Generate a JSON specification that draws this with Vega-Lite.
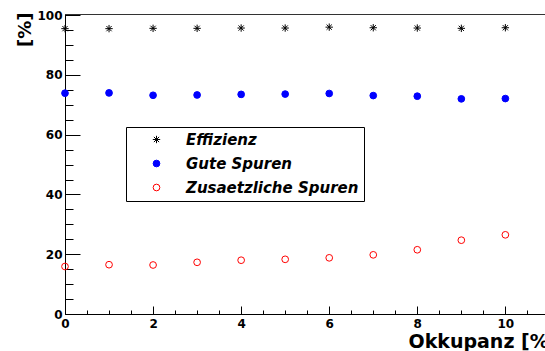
{
  "$schema": "https://vega.github.io/schema/vega-lite/v6.json",
  "width": 480,
  "height": 300,
  "autosize": {"type": "none"},
  "padding": {"left": 65, "top": 14, "right": 0, "bottom": 37},
  "background": "white",
  "config": {
    "view": {"stroke": "#333333", "strokeWidth": 1},
    "axis": {
      "grid": false,
      "labelFont": "DejaVu Sans",
      "labelFontWeight": "bold",
      "labelFontSize": 12,
      "labelColor": "black",
      "domainColor": "black",
      "tickColor": "black",
      "titleFont": "DejaVu Sans",
      "titleFontWeight": "bold",
      "titleColor": "black"
    }
  },
  "data": {
    "values": [
      {"okkupanz": 0, "wert": 95.5, "serie": "Effizienz"},
      {"okkupanz": 1, "wert": 95.5, "serie": "Effizienz"},
      {"okkupanz": 2, "wert": 95.6, "serie": "Effizienz"},
      {"okkupanz": 3, "wert": 95.6, "serie": "Effizienz"},
      {"okkupanz": 4, "wert": 95.7, "serie": "Effizienz"},
      {"okkupanz": 5, "wert": 95.7, "serie": "Effizienz"},
      {"okkupanz": 6, "wert": 96.0, "serie": "Effizienz"},
      {"okkupanz": 7, "wert": 95.8, "serie": "Effizienz"},
      {"okkupanz": 8, "wert": 95.7, "serie": "Effizienz"},
      {"okkupanz": 9, "wert": 95.6, "serie": "Effizienz"},
      {"okkupanz": 10, "wert": 95.8, "serie": "Effizienz"},
      {"okkupanz": 0, "wert": 73.9, "serie": "Gute Spuren"},
      {"okkupanz": 1, "wert": 74.0, "serie": "Gute Spuren"},
      {"okkupanz": 2, "wert": 73.2, "serie": "Gute Spuren"},
      {"okkupanz": 3, "wert": 73.3, "serie": "Gute Spuren"},
      {"okkupanz": 4, "wert": 73.5, "serie": "Gute Spuren"},
      {"okkupanz": 5, "wert": 73.6, "serie": "Gute Spuren"},
      {"okkupanz": 6, "wert": 73.8, "serie": "Gute Spuren"},
      {"okkupanz": 7, "wert": 73.1, "serie": "Gute Spuren"},
      {"okkupanz": 8, "wert": 72.9, "serie": "Gute Spuren"},
      {"okkupanz": 9, "wert": 72.0, "serie": "Gute Spuren"},
      {"okkupanz": 10, "wert": 72.1, "serie": "Gute Spuren"},
      {"okkupanz": 0, "wert": 15.9, "serie": "Zusaetzliche Spuren"},
      {"okkupanz": 1, "wert": 16.5, "serie": "Zusaetzliche Spuren"},
      {"okkupanz": 2, "wert": 16.4, "serie": "Zusaetzliche Spuren"},
      {"okkupanz": 3, "wert": 17.3, "serie": "Zusaetzliche Spuren"},
      {"okkupanz": 4, "wert": 18.0, "serie": "Zusaetzliche Spuren"},
      {"okkupanz": 5, "wert": 18.3, "serie": "Zusaetzliche Spuren"},
      {"okkupanz": 6, "wert": 18.8, "serie": "Zusaetzliche Spuren"},
      {"okkupanz": 7, "wert": 19.8, "serie": "Zusaetzliche Spuren"},
      {"okkupanz": 8, "wert": 21.5, "serie": "Zusaetzliche Spuren"},
      {"okkupanz": 9, "wert": 24.7, "serie": "Zusaetzliche Spuren"},
      {"okkupanz": 10, "wert": 26.5, "serie": "Zusaetzliche Spuren"}
    ]
  },
  "mark": {"type": "point", "opacity": 1, "strokeWidth": 1, "size": 45},
  "encoding": {
    "x": {
      "field": "okkupanz", "type": "quantitative",
      "scale": {"domain": [0, 10.9], "nice": false, "zero": false},
      "axis": {
        "orient": "bottom",
        "values": [0, 0.5, 1, 1.5, 2, 2.5, 3, 3.5, 4, 4.5, 5, 5.5, 6, 6.5, 7, 7.5, 8, 8.5, 9, 9.5, 10, 10.5],
        "labelExpr": "datum.value % 2 === 0 ? format(datum.value, 'd') : ''",
        "tickSize": {"condition": {"test": "datum.value % 2 === 0", "value": -8}, "value": -4},
        "labelPadding": 12,
        "labelFlush": false,
        "labelOverlap": false,
        "title": "Okkupanz [%]",
        "titleFontSize": 19,
        "titleAnchor": "start",
        "titleAlign": "left",
        "titleX": 343,
        "titleY": 33,
        "titleBaseline": "alphabetic"
      }
    },
    "y": {
      "field": "wert", "type": "quantitative",
      "scale": {"domain": [0, 100.4], "nice": false, "zero": false},
      "axis": {
        "orient": "left",
        "values": [0, 5, 10, 15, 20, 25, 30, 35, 40, 45, 50, 55, 60, 65, 70, 75, 80, 85, 90, 95, 100],
        "labelExpr": "datum.value % 20 === 0 ? format(datum.value, 'd') : ''",
        "tickSize": {"condition": {"test": "datum.value % 20 === 0", "value": -15}, "value": -8},
        "labelPadding": 18,
        "labelFlush": false,
        "labelOverlap": false,
        "title": "[%]",
        "titleFontSize": 18,
        "titleAngle": -90,
        "titleAlign": "right",
        "titleBaseline": "alphabetic",
        "titleX": -35,
        "titleY": -2
      }
    },
    "shape": {
      "field": "serie", "type": "nominal",
      "scale": {
        "domain": ["Effizienz", "Gute Spuren", "Zusaetzliche Spuren"],
        "range": ["M-1.1,0L1.1,0M0,-1.1L0,1.1M-0.78,-0.78L0.78,0.78M-0.78,0.78L0.78,-0.78", "circle", "circle"]
      },
      "legend": {
        "title": null, "orient": "none", "legendX": 61, "legendY": 113,
        "padding": 5, "strokeColor": "black", "fillColor": "white",
        "symbolOffset": 18, "labelOffset": 22, "rowPadding": 8,
        "symbolSize": 45, "symbolStrokeWidth": 1, "labelLimit": 400,
        "labelFont": "DejaVu Sans", "labelFontStyle": "italic", "labelFontWeight": "bold",
        "labelFontSize": 15, "labelColor": "black"
      }
    },
    "fill": {
      "field": "serie", "type": "nominal",
      "scale": {
        "domain": ["Effizienz", "Gute Spuren", "Zusaetzliche Spuren"],
        "range": ["transparent", "#0000ff", "transparent"]
      },
      "legend": {
        "title": null, "orient": "none", "legendX": 61, "legendY": 113,
        "padding": 5, "strokeColor": "black", "fillColor": "white",
        "symbolOffset": 18, "labelOffset": 22, "rowPadding": 8,
        "symbolSize": 45, "symbolStrokeWidth": 1, "labelLimit": 400,
        "labelFont": "DejaVu Sans", "labelFontStyle": "italic", "labelFontWeight": "bold",
        "labelFontSize": 15, "labelColor": "black"
      }
    },
    "stroke": {
      "field": "serie", "type": "nominal",
      "scale": {
        "domain": ["Effizienz", "Gute Spuren", "Zusaetzliche Spuren"],
        "range": ["black", "#0000ff", "#ff0000"]
      },
      "legend": {
        "title": null, "orient": "none", "legendX": 61, "legendY": 113,
        "padding": 5, "strokeColor": "black", "fillColor": "white",
        "symbolOffset": 18, "labelOffset": 22, "rowPadding": 8,
        "symbolSize": 45, "symbolStrokeWidth": 1, "labelLimit": 400,
        "labelFont": "DejaVu Sans", "labelFontStyle": "italic", "labelFontWeight": "bold",
        "labelFontSize": 15, "labelColor": "black"
      }
    }
  }
}
